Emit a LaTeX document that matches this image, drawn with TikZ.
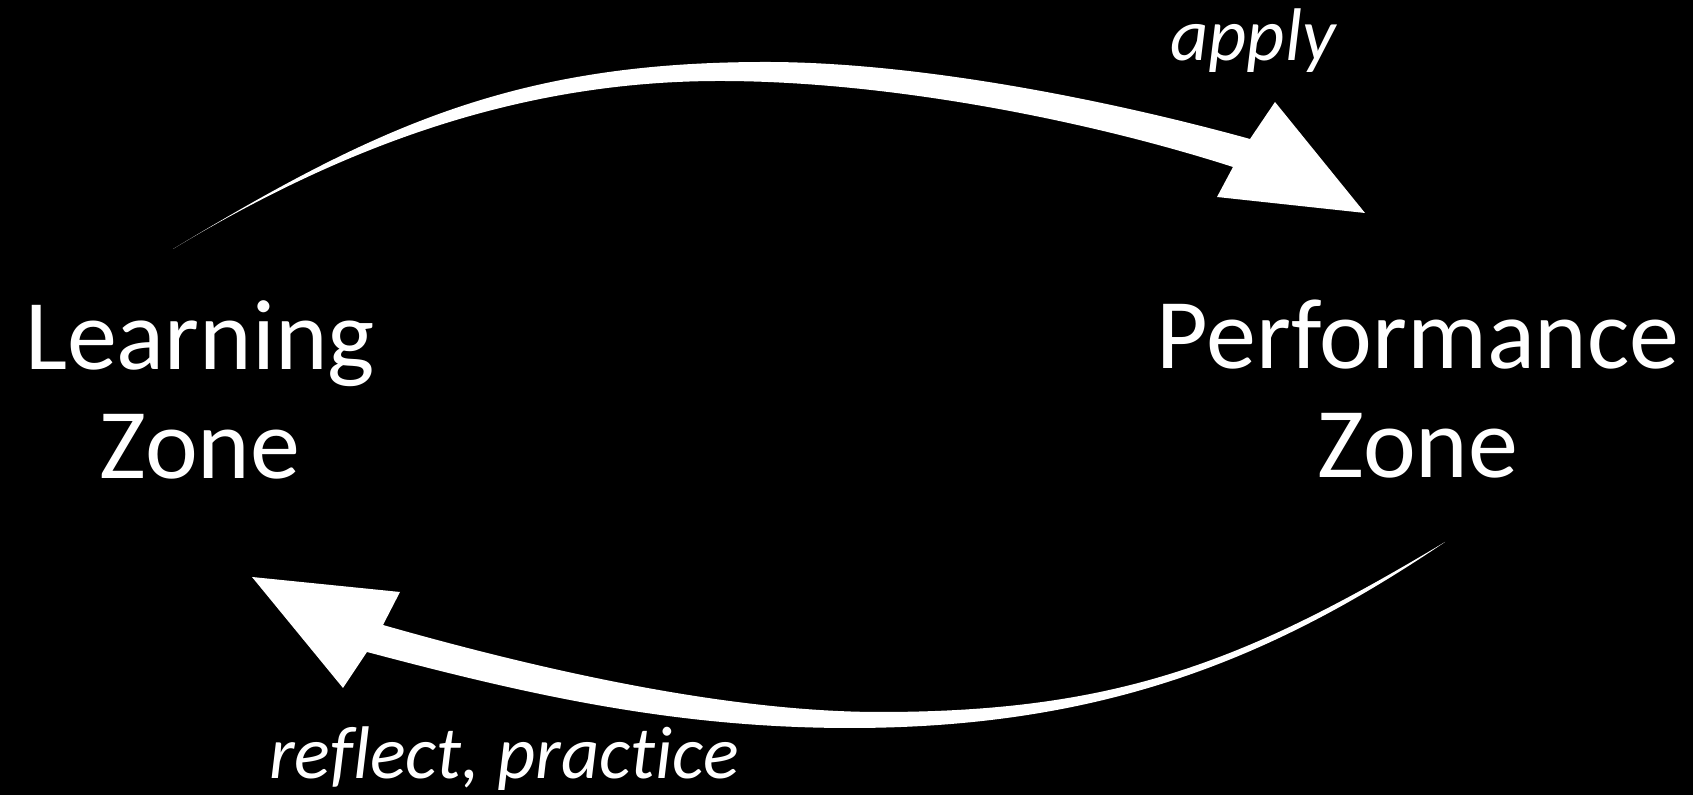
\documentclass[tikz,border=0pt]{standalone}
\usepackage{fontspec}
\setmainfont{Carlito}[Ligatures=NoCommon]
\begin{document}
\begin{tikzpicture}[x=0.01cm,y=-0.01cm,
  zone/.style={text=white, align=center, inner sep=0pt, font=\fontsize{28.45}{31}\selectfont},
  verb/.style={text=white, inner sep=0pt, anchor=base, font=\fontsize{21.2}{24}\selectfont\itshape},
  sweep/.style={fill=white}]
\fill[black] (0,0) rectangle (1693,795);
\useasboundingbox (0,0) rectangle (1693,795);
% zone labels
\node[zone] (learn) at (200,390) {Learning\\Zone};
\node[zone] (perf) at (1418,389) {Performance\\Zone};
% verb labels
\node[verb] (apply) at (1253,61) {apply};
\node[verb] (reflect) at (504,779) {reflect, practice};
% top tapered arrow (learning -> performance)
\coordinate (ttail) at (173,249);
\coordinate (ttip) at (1365,213);
\fill[sweep] (ttail)
  .. controls (379,125) and (516,62) .. (766,62)
  .. controls (916,62) and (1105,99) .. (1250,139)
  -- (1275,102) -- (ttip) -- (1217,197) -- (1233,167)
  .. controls (1090,121) and (890,81) .. (720,81)
  .. controls (520,81) and (344,146) .. (ttail)
  -- cycle;
% bottom tapered arrow (performance -> learning)
\coordinate (btail) at (1445,542);
\coordinate (btip) at (252,577);
\fill[sweep] (btail)
  .. controls (1248,660) and (1120,712) .. (880,712)
  .. controls (720,712) and (527,666) .. (383,625)
  -- (400,592) -- (btip) -- (343,688) -- (367,652)
  .. controls (522,693) and (670,728) .. (850,728)
  .. controls (1110,728) and (1279,654) .. (btail)
  -- cycle;
\end{tikzpicture}
\end{document}
